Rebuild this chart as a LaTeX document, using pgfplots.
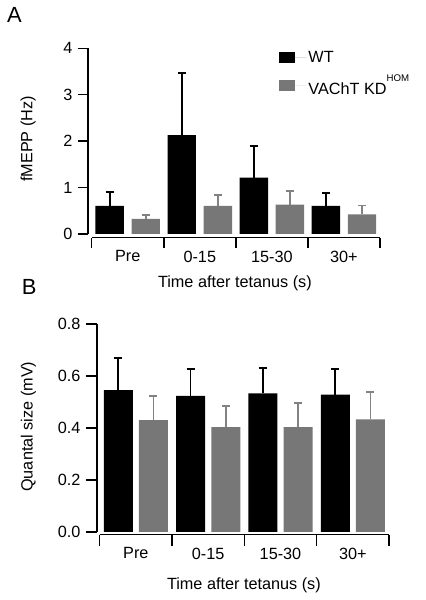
\documentclass[border=0pt]{standalone}
\usepackage{pgfplots}
\usepackage{pgfplotstable}
\pgfplotsset{compat=1.18}
\usepackage{fontspec}
\setmainfont{Liberation Sans}
\definecolor{bargray}{RGB}{119,119,119}
\definecolor{errgray}{RGB}{130,130,130}

\pgfplotstableread{
x y e
-0.25 0.60 0.30
0.75 2.13 1.34
1.75 1.21 0.69
2.75 0.60 0.28
}\Awt
\pgfplotstableread{
x y e
0.25 0.32 0.09
1.25 0.60 0.23
2.25 0.63 0.29
3.25 0.42 0.19
}\Akd
\pgfplotstableread{
x y e
-0.243 0.546 0.122
0.757 0.524 0.102
1.757 0.533 0.099
2.757 0.528 0.100
}\Bwt
\pgfplotstableread{
x y e
0.243 0.430 0.094
1.243 0.403 0.082
2.243 0.403 0.094
3.243 0.433 0.105
}\Bkd

\pgfplotsset{
  myax/.style={
    scale only axis, width=292bp, clip=false,
    font=\fontsize{16.3}{19}\selectfont,
    /pgf/number format/assume math mode=true,
    axis lines*=left, axis line style={draw=none},
    tick align=outside,
    every tick/.style={black, line width=1.5bp},
    yticklabel style={xshift=-2bp},
    xtick={-0.5,0.5,1.5,2.5,3.5}, xticklabels={},
    extra x ticks={0,1,2,3},
    extra x tick labels={Pre,0-15,15-30,30+},
    extra x tick style={major tick length=0pt, xticklabel style={yshift=-9.5bp}},
    ybar, bar shift=0pt,
    xlabel={Time after tetanus (s)},
    legend cell align=left,
  },
  wtbar/.style={fill=black, draw=none,
    error bars/.cd, y dir=plus, y explicit, error mark=|,
    error bar style={black, line width=1.7bp},
    error mark options={black, mark size=4bp, line width=1.7bp}},
  kdbar/.style={fill=bargray, draw=none,
    error bars/.cd, y dir=plus, y explicit, error mark=|,
    error bar style={errgray, line width=1.7bp},
    error mark options={errgray, mark size=4bp, line width=1.7bp}},
}

\begin{document}
\begin{tikzpicture}
\useasboundingbox (0bp,0bp) rectangle (426bp,600bp);
% Panel A
\begin{axis}[myax, at={(88bp,362.3bp)}, anchor=south west, height=189.4bp,
  xmin=-0.551, xmax=3.5, ymin=-0.084, ymax=4,
  ytick={0,1,2,3,4}, major tick length=10bp,
  bar width=28.4bp,
  ylabel={fMEPP (Hz)},
  every axis y label/.style={at={(axis description cs:-0.205,0.521)}, rotate=90, anchor=center},
  every axis x label/.style={at={(axis description cs:0.503,-0.239)}, anchor=center},
  legend style={draw=none, fill=none, at={(axis cs:2.061,4.018)}, anchor=north west,
    row sep=6.5bp, font=\fontsize{16.3}{19}\selectfont},
  legend image code/.code={\fill[#1] (0bp,-5.5bp) rectangle (16bp,5.5bp); \path (0bp,0bp) -- (27bp,0bp);},
]
\addplot[wtbar] table[x=x, y=y, y error=e] {\Awt};
\addlegendentry{WT}
\addplot[kdbar] table[x=x, y=y, y error=e] {\Akd};
\addlegendentry{VAChT KD\raisebox{13bp}{\fontsize{9.7}{10}\selectfont HOM}}
\draw[line width=1.5bp] (axis cs:-0.551,0) -- (axis cs:-0.551,4);
\draw[line width=1.5bp] (axis cs:-0.5,-0.084) -- (axis cs:3.5,-0.084);
\end{axis}
% Panel B
\begin{axis}[myax, at={(97bp,65.3bp)}, anchor=south west, height=210.7bp,
  xmin=-0.537, xmax=3.5, ymin=-0.0104, ymax=0.8,
  ytick={0,0.2,0.4,0.6,0.8}, major tick length=11bp,
  yticklabel style={/pgf/number format/.cd, fixed, fixed zerofill, precision=1},
  bar width=29bp,
  ylabel={Quantal size (mV)},
  every axis y label/.style={at={(axis description cs:-0.2346,0.5126)}, rotate=90, anchor=center},
  every axis x label/.style={at={(axis description cs:0.503,-0.241)}, anchor=center},
]
\addplot[wtbar] table[x=x, y=y, y error=e] {\Bwt};
\addplot[kdbar] table[x=x, y=y, y error=e] {\Bkd};
\draw[line width=1.5bp] (axis cs:-0.537,0) -- (axis cs:-0.537,0.8);
\draw[line width=1.5bp] (axis cs:-0.5,-0.0104) -- (axis cs:3.5,-0.0104);
\end{axis}
\node[anchor=base west, inner sep=0pt, font=\fontsize{22}{24}\selectfont] at (7bp,577bp) {A};
\node[anchor=base west, inner sep=0pt, font=\fontsize{22}{24}\selectfont] at (21.7bp,305bp) {B};
\end{tikzpicture}
\end{document}
